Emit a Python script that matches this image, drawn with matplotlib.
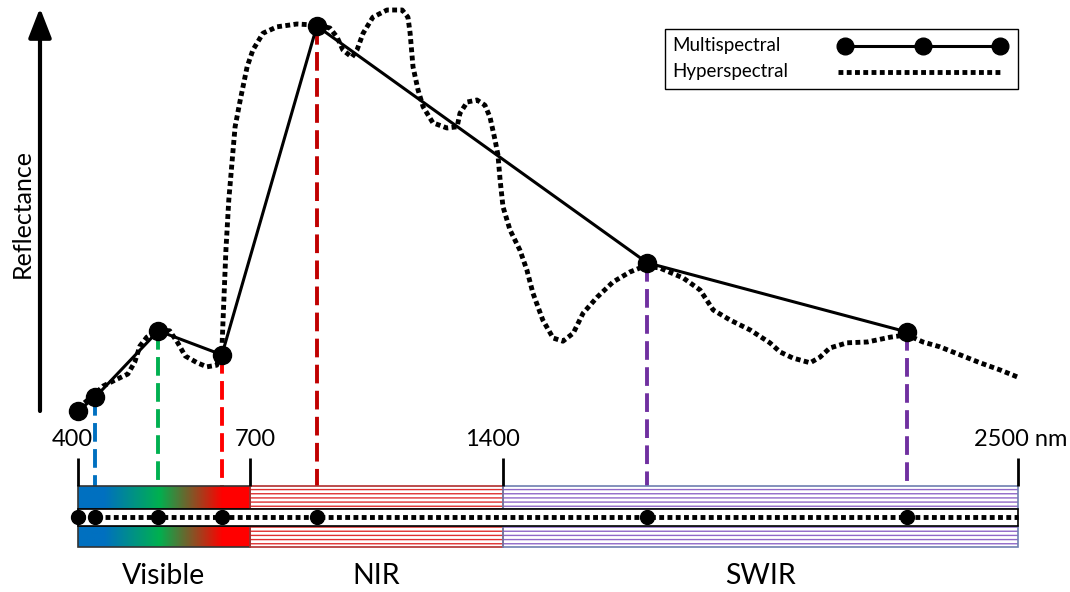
"""Multispectral vs hyperspectral sampling of a reflectance spectrum."""
import numpy as np
import matplotlib
matplotlib.use("Agg")
import matplotlib.pyplot as plt
from matplotlib.colors import LinearSegmentedColormap
from matplotlib.patches import Rectangle

plt.rcParams["font.family"] = ["Lato", "DejaVu Sans"]
plt.rcParams["hatch.linewidth"] = 1.0

W, H = 1070, 592

# region edges (nm) and where they sit across the picture (px) - spacing is uneven
EDGE_NM = [400, 700, 1400, 2500]
EDGE_PX = [78, 250, 503, 1018]
EDGE_LABELS = ["400", "700", "1400", "2500 nm"]
REGIONS = ["Visible", "NIR", "SWIR"]

# multispectral bands
MS_NM = [400, 430, 540, 651, 885, 1708, 2263]
MS_REFL = [4.9, 6.6, 14.9, 11.9, 53.0, 23.4, 14.75]
MS_COLORS = [None, "#0070c0", "#00b050", "#ff0000", "#c00000", "#7030a0", "#7030a0"]

# hyperspectral curve
HS_NM = [400, 430, 444, 465, 487, 499, 508, 520, 540, 560,
         574, 587, 608, 625, 642, 651, 653, 658, 663, 670,
         674, 683, 695, 708, 736, 775, 830, 885, 921, 941,
         957, 982, 996, 1013, 1040, 1079, 1121, 1137, 1143, 1151,
         1165, 1179, 1206, 1245, 1273, 1281, 1301, 1328, 1350, 1364,
         1378, 1386, 1392, 1400, 1415, 1436, 1451, 1464, 1485, 1507,
         1528, 1550, 1571, 1601, 1635, 1671, 1703, 1735, 1785, 1821,
         1849, 1885, 1928, 1970, 1992, 2019, 2056, 2077, 2098, 2135,
         2178, 2227, 2263, 2297, 2333, 2376, 2419, 2462, 2500]
HS_REFL = [5.25, 7.0, 8.0, 8.75, 9.5, 11.0, 13.0, 14.1, 15.0, 14.9,
           13.4, 11.75, 10.9, 10.4, 10.6, 12.5, 16.25, 25.0, 31.25, 37.1,
           40.4, 43.75, 47.9, 50.0, 52.1, 52.9, 53.25, 53.1, 52.75, 51.6,
           50.0, 49.1, 50.0, 52.1, 54.1, 55.0, 55.0, 54.1, 52.1, 47.9,
           45.0, 42.9, 40.9, 40.25, 40.4, 42.1, 43.5, 43.75, 43.1, 41.6,
           38.75, 36.9, 33.75, 30.4, 27.5, 25.0, 22.5, 19.6, 16.25, 14.0,
           13.6, 14.6, 17.1, 19.1, 21.0, 22.25, 23.0, 22.75, 21.5, 20.0,
           17.5, 16.25, 15.0, 13.4, 12.25, 11.5, 10.9, 11.6, 12.75, 13.4,
           13.5, 14.1, 14.4, 13.5, 12.9, 11.9, 10.9, 10.0, 9.1]

DOTTED = dict(color="black", lw=3.5, linestyle=(0, (1, 0.7)), dash_capstyle="butt")

# piecewise-linear wavelength scale, extended past both ends
_s0 = (EDGE_PX[1] - EDGE_PX[0]) / (EDGE_NM[1] - EDGE_NM[0])
_s1 = (EDGE_PX[-1] - EDGE_PX[-2]) / (EDGE_NM[-1] - EDGE_NM[-2])
_nm = np.r_[EDGE_NM[0] - 2000, EDGE_NM, EDGE_NM[-1] + 2000]
_px = np.r_[EDGE_PX[0] - 2000 * _s0, EDGE_PX, EDGE_PX[-1] + 2000 * _s1]


def fwd(w):
    return np.interp(w, _nm, _px)


def inv(p):
    return np.interp(p, _px, _nm)


def ry(py):
    """picture row -> reflectance units"""
    return (450 - py) / 8


def P(px, py):
    return px / W, 1 - py / H


fig = plt.figure(figsize=(W / 100, H / 100), dpi=100)
ax = fig.add_axes([0, 0, 1, 1])
ax.set_xscale("function", functions=(fwd, inv))
ax.set_xlim(inv(0), inv(W))
ax.set_ylim(ry(H), ry(0))
ax.axis("off")

# band rows (px)
TOP, MID_T, MID_B, BOT = 486, 509, 526, 547
DOT_ROW = 517

# dashed drop lines
for nm, r, c in zip(MS_NM, MS_REFL, MS_COLORS):
    if c is None:
        continue
    ax.plot([nm, nm], [r, ry(TOP)], color=c, lw=2.8, dashes=(4.8, 1.9), zorder=2)

ax.plot(HS_NM, HS_REFL, zorder=3, **DOTTED)
ax.plot(MS_NM, MS_REFL, color="black", lw=2.2, marker="o", ms=13, zorder=4)

# ---- spectrum bar ----
vis_cmap = LinearSegmentedColormap.from_list(
    "vis", [(0, "#0070c0"), (0.15, "#0070c0"), (0.47, "#00b050"),
            (0.84, "#ff0000"), (1, "#ff0000")])
ax.imshow(np.linspace(0, 1, 256)[None, :], cmap=vis_cmap, aspect="auto",
          extent=(EDGE_NM[0], EDGE_NM[1], ry(BOT), ry(TOP)), zorder=5)

bands = [(MID_T, TOP), (BOT, MID_B)]
styles = [("none", "#333333"), ("#e03030", "#b03030"), ("#9068c8", "#6f7fb0")]
for i, (hatch_col, edge_col) in enumerate(styles):
    x0, x1 = EDGE_NM[i], EDGE_NM[i + 1]
    for b, t in bands:
        if i > 0:
            ax.add_patch(Rectangle((x0, ry(b)), x1 - x0, ry(t) - ry(b), facecolor="white",
                                   edgecolor=hatch_col, hatch="----", lw=0, zorder=5))
        ax.add_patch(Rectangle((x0, ry(b)), x1 - x0, ry(t) - ry(b), facecolor="none",
                               edgecolor=edge_col, lw=1.2, zorder=6))

ax.add_patch(Rectangle((EDGE_NM[0], ry(MID_B)), EDGE_NM[-1] - EDGE_NM[0],
                       ry(MID_T) - ry(MID_B), facecolor="white", edgecolor="black",
                       lw=1.2, zorder=6))
ax.plot([inv(72), EDGE_NM[-1]], [ry(DOT_ROW)] * 2, zorder=7, **DOTTED)
ax.plot(MS_NM, [ry(DOT_ROW)] * len(MS_NM), "o", color="black", ms=10, zorder=8)

# edge ticks + labels
ax.vlines(EDGE_NM, ry(TOP), ry(458), color="black", lw=2, zorder=6)
LABEL_DX = [-6, 5, -11, 3]
for nm, lab, dx in zip(EDGE_NM, EDGE_LABELS, LABEL_DX):
    ax.annotate(lab, (nm, ry(439)), xytext=(dx * 0.72, 0), textcoords="offset points",
                ha="center", va="center", fontsize=17)

for i, name in enumerate(REGIONS):
    mid = inv((fwd(EDGE_NM[i]) + fwd(EDGE_NM[i + 1])) / 2)
    ax.text(mid, ry(576), name, ha="center", va="center", fontsize=20.5)

# reflectance arrow
ax.annotate("", xy=P(40, 8), xytext=P(40, 411), xycoords="axes fraction",
            textcoords="axes fraction",
            arrowprops=dict(arrowstyle="-|>,head_length=0.9,head_width=0.35",
                            lw=3, color="black", shrinkA=0, shrinkB=0,
                            mutation_scale=20))
ax.text(*P(22, 213), "Reflectance", transform=ax.transAxes, rotation=90,
        ha="center", va="center", fontsize=18)

# legend, drawn by hand so the labels line up on the left
tA = ax.transAxes
x0, y0 = P(665, 89)
x1, y1 = P(1018, 29)
ax.add_patch(Rectangle((x0, y0), x1 - x0, y1 - y0, transform=tA, facecolor="white",
                       edgecolor="black", lw=1.0, zorder=9))
ax.text(*P(672, 46), "Multispectral", transform=tA, ha="left", va="center",
        fontsize=13.5, zorder=10)
ax.text(*P(672, 71), "Hyperspectral", transform=tA, ha="left", va="center",
        fontsize=13.5, zorder=10)
lx = [P(845, 46)[0], P(923, 46)[0], P(1000, 46)[0]]
ax.plot(lx, [P(0, 46)[1]] * 3, color="black", lw=2.2, marker="o", ms=12,
        transform=tA, zorder=10)
ax.plot([P(838, 0)[0], P(1000, 0)[0]], [P(0, 72)[1]] * 2, transform=tA, zorder=10,
        **DOTTED)

fig.savefig("out.png", dpi=100)
